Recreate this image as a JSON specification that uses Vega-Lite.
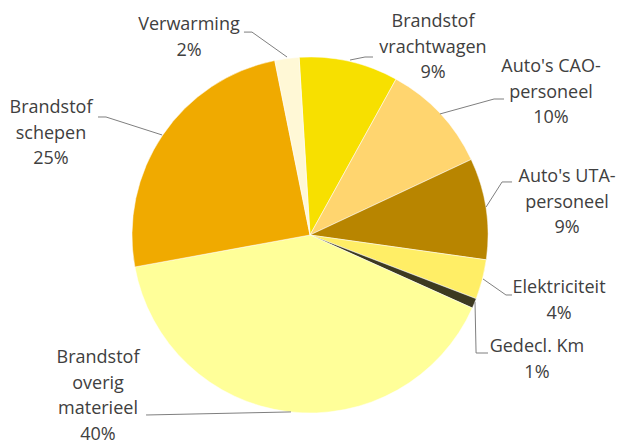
{
  "$schema": "https://vega.github.io/schema/vega-lite/v6.json",
  "width": 614,
  "height": 422,
  "autosize": "none",
  "padding": {"left": 3, "top": 24, "right": 0, "bottom": 0},
  "background": "white",
  "config": {"view": {"stroke": null}},
  "datasets": {
    "slices": [
      {"rank": 1, "name": "Brandstof vrachtwagen", "share": 9.0},
      {"rank": 2, "name": "Auto's CAO-personeel", "share": 10.0},
      {"rank": 3, "name": "Auto's UTA-personeel", "share": 9.2},
      {"rank": 4, "name": "Elektriciteit", "share": 3.6},
      {"rank": 5, "name": "Gedecl. Km", "share": 0.9},
      {"rank": 6, "name": "Brandstof overig materieel", "share": 40.4},
      {"rank": 7, "name": "Brandstof schepen", "share": 24.7},
      {"rank": 8, "name": "Verwarming", "share": 2.2}
    ],
    "leaders": [
      {"name": "Verwarming", "seq": 1, "px": -0.129, "py": 1.0},
      {"name": "Verwarming", "seq": 2, "px": -0.326, "py": 1.14},
      {"name": "Verwarming", "seq": 3, "px": -0.371, "py": 1.14},
      {"name": "Brandstof vrachtwagen", "seq": 1, "px": 0.225, "py": 0.983},
      {"name": "Brandstof vrachtwagen", "seq": 2, "px": 0.309, "py": 1.0},
      {"name": "Brandstof vrachtwagen", "seq": 3, "px": 0.354, "py": 1.0},
      {"name": "Auto's CAO-personeel", "seq": 1, "px": 0.73, "py": 0.68},
      {"name": "Auto's CAO-personeel", "seq": 2, "px": 1.034, "py": 0.764},
      {"name": "Auto's CAO-personeel", "seq": 3, "px": 1.09, "py": 0.764},
      {"name": "Auto's UTA-personeel", "seq": 1, "px": 0.989, "py": 0.157},
      {"name": "Auto's UTA-personeel", "seq": 2, "px": 1.079, "py": 0.298},
      {"name": "Auto's UTA-personeel", "seq": 3, "px": 1.135, "py": 0.298},
      {"name": "Elektriciteit", "seq": 1, "px": 0.972, "py": -0.247},
      {"name": "Elektriciteit", "seq": 2, "px": 1.101, "py": -0.337},
      {"name": "Elektriciteit", "seq": 3, "px": 1.135, "py": -0.337},
      {"name": "Gedecl. Km", "seq": 1, "px": 0.927, "py": -0.376},
      {"name": "Gedecl. Km", "seq": 2, "px": 0.933, "py": -0.663},
      {"name": "Gedecl. Km", "seq": 3, "px": 1.0, "py": -0.663},
      {"name": "Brandstof overig materieel", "seq": 1, "px": -0.107, "py": -0.994},
      {"name": "Brandstof overig materieel", "seq": 2, "px": -0.91, "py": -1.011},
      {"name": "Brandstof overig materieel", "seq": 3, "px": -0.921, "py": -1.011},
      {"name": "Brandstof schepen", "seq": 1, "px": -0.831, "py": 0.562},
      {"name": "Brandstof schepen", "seq": 2, "px": -1.146, "py": 0.663},
      {"name": "Brandstof schepen", "seq": 3, "px": -1.191, "py": 0.663}
    ],
    "labels": [
      {"name": "Verwarming", "label": ["Verwarming", "2%"], "lx": -0.68, "ly": 1.18},
      {"name": "Brandstof vrachtwagen", "label": ["Brandstof", "vrachtwagen", "9%"], "lx": 0.691, "ly": 1.197},
      {"name": "Auto's CAO-personeel", "label": ["Auto's CAO-", "personeel", "10%"], "lx": 1.354, "ly": 0.944},
      {"name": "Auto's UTA-personeel", "label": ["Auto's UTA-", "personeel", "9%"], "lx": 1.444, "ly": 0.326},
      {"name": "Elektriciteit", "label": ["Elektriciteit", "4%"], "lx": 1.399, "ly": -0.298},
      {"name": "Gedecl. Km", "label": ["Gedecl. Km", "1%"], "lx": 1.275, "ly": -0.629},
      {"name": "Brandstof overig materieel", "label": ["Brandstof", "overig", "materieel", "40%"], "lx": -1.191, "ly": -0.691},
      {"name": "Brandstof schepen", "label": ["Brandstof", "schepen", "25%"], "lx": -1.455, "ly": 0.713}
    ]
  },
  "layer": [
    {
      "data": {"name": "slices"},
      "mark": {"type": "arc", "outerRadius": 178, "stroke": "white", "strokeWidth": 0.5},
      "encoding": {
        "theta": {"field": "share", "type": "quantitative", "stack": true, "scale": {"range": [-0.0611, 6.2221]}},
        "order": {"field": "rank", "type": "quantitative"},
        "color": {
          "field": "name",
          "type": "nominal",
          "legend": null,
          "scale": {
            "domain": ["Brandstof vrachtwagen", "Auto's CAO-personeel", "Auto's UTA-personeel", "Elektriciteit", "Gedecl. Km", "Brandstof overig materieel", "Brandstof schepen", "Verwarming"],
            "range": ["#F7E000", "#FFD56F", "#B88500", "#FFEE66", "#3D3A20", "#FFFF99", "#F0AA00", "#FFF8D6"]
          }
        }
      }
    },
    {
      "data": {"name": "leaders"},
      "mark": {"type": "line", "color": "#7F7F7F", "strokeWidth": 1},
      "encoding": {
        "x": {"field": "px", "type": "quantitative", "axis": null, "scale": {"domain": [-1.7247, 1.7247], "nice": false, "zero": false}},
        "y": {"field": "py", "type": "quantitative", "axis": null, "scale": {"domain": [-1.1854, 1.1854], "nice": false, "zero": false}},
        "detail": {"field": "name", "type": "nominal"},
        "order": {"field": "seq", "type": "quantitative"}
      }
    },
    {
      "data": {"name": "labels"},
      "mark": {"type": "text", "font": "Open Sans", "fontSize": 18, "lineHeight": 25.7, "align": "center", "baseline": "middle", "color": "#404040"},
      "encoding": {
        "x": {"field": "lx", "type": "quantitative"},
        "y": {"field": "ly", "type": "quantitative"},
        "text": {"field": "label", "type": "nominal"}
      }
    }
  ]
}
